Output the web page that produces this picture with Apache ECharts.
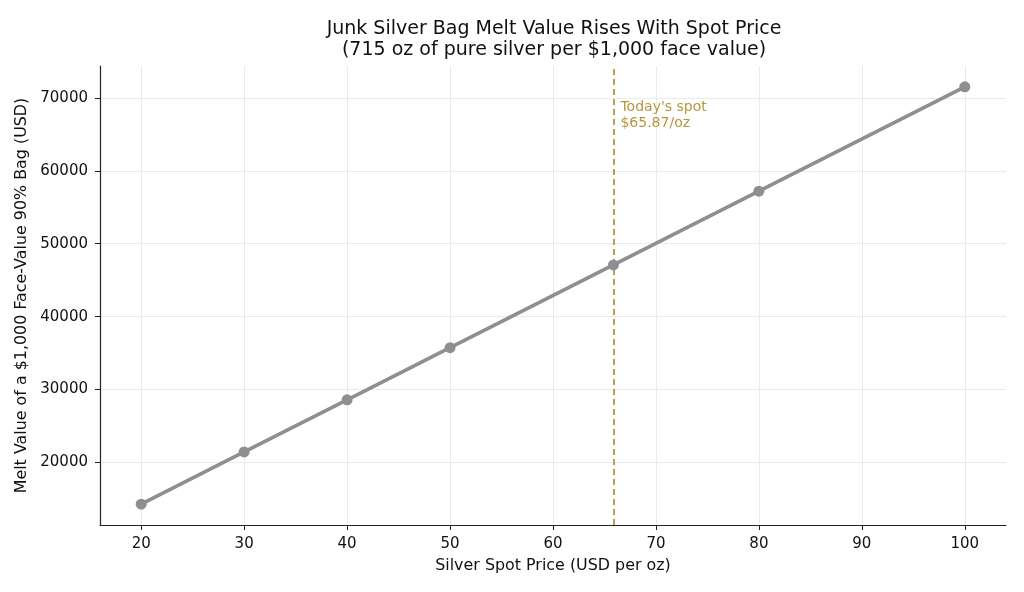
<!DOCTYPE html>
<html>
<head>
<meta charset="utf-8">
<script src="https://cdn.jsdelivr.net/npm/echarts@6/dist/echarts.min.js"></script>
<style>
html,body{margin:0;padding:0;background:#fff;}
#c{width:1024px;height:592px;}
</style>
</head>
<body>
<div id="c"></div>
<script>
var spotPrices = [20, 30, 40, 50, 65.87, 80, 100];
var meltValues = [14300, 21450, 28600, 35750, 47097, 57200, 71500];
var todaySpot = 65.87;
var xTicks = [20, 30, 40, 50, 60, 70, 80, 90, 100];
var yTicks = [20000, 30000, 40000, 50000, 60000, 70000];
var titleText = "Junk Silver Bag Melt Value Rises With Spot Price\n(715 oz of pure silver per $1,000 face value)";
var annotationText = "Today's spot\n$65.87/oz";

var FONT = "DejaVu Sans";
var chart = echarts.init(document.getElementById('c'), null, {renderer: 'canvas'});
var seriesData = spotPrices.map(function (x, i) { return [x, meltValues[i]]; });

chart.setOption({
  animation: false,
  backgroundColor: '#ffffff',
  title: {
    text: titleText,
    left: 549,
    textAlign: 'center',
    top: 14,
    textStyle: {fontFamily: FONT, fontSize: 19, fontWeight: 'normal', color: '#111', lineHeight: 21}
  },
  grid: {left: 100, right: 18, top: 66, bottom: 67},
  xAxis: {
    type: 'value',
    min: 16, max: 104,
    name: 'Silver Spot Price (USD per oz)',
    nameLocation: 'middle',
    nameGap: 33,
    nameTextStyle: {fontFamily: FONT, fontSize: 15.9, color: '#111'},
    axisLine: {show: true, onZero: false, lineStyle: {color: '#222', width: 1.2}},
    axisTick: {show: true, customValues: xTicks, length: 5, lineStyle: {color: '#222'}},
    axisLabel: {customValues: xTicks, fontFamily: FONT, fontSize: 15, color: '#111', margin: 12},
    splitLine: {show: true, lineStyle: {color: '#ebebeb', width: 1}}
  },
  yAxis: {
    type: 'value',
    min: 11440, max: 74360,
    name: 'Melt Value of a $1,000 Face-Value 90% Bag (USD)',
    nameLocation: 'middle',
    nameGap: 69,
    nameTextStyle: {fontFamily: FONT, fontSize: 15.9, color: '#111'},
    axisLine: {show: true, onZero: false, lineStyle: {color: '#222', width: 1.2}},
    axisTick: {show: true, customValues: yTicks, length: 5, lineStyle: {color: '#222'}},
    axisLabel: {customValues: yTicks, fontFamily: FONT, fontSize: 15, color: '#111', margin: 12,
      formatter: function (v) { return String(v); }},
    splitLine: {show: true, lineStyle: {color: '#ebebeb', width: 1}}
  },
  series: [{
    type: 'line',
    data: seriesData,
    symbol: 'circle',
    symbolSize: 11,
    lineStyle: {color: '#8e8e93', width: 3.6},
    itemStyle: {color: '#8e8e93'},
    z: 3,
    markLine: {
      silent: true,
      symbol: ['none', 'none'],
      label: {show: false},
      lineStyle: {color: '#b8963e', type: [6, 4], width: 1.8},
      data: [{xAxis: todaySpot}],
      z: 2
    },
    markPoint: {
      silent: true,
      symbol: 'circle',
      symbolSize: 0,
      data: [{coord: [todaySpot, 69800], value: 0}],
      label: {
        show: true,
        formatter: annotationText,
        position: [7, 0],
        align: 'left',
        verticalAlign: 'top',
        fontFamily: FONT,
        fontSize: 14,
        lineHeight: 16,
        color: '#b8963e'
      }
    }
  }]
});
</script>
</body>
</html>
